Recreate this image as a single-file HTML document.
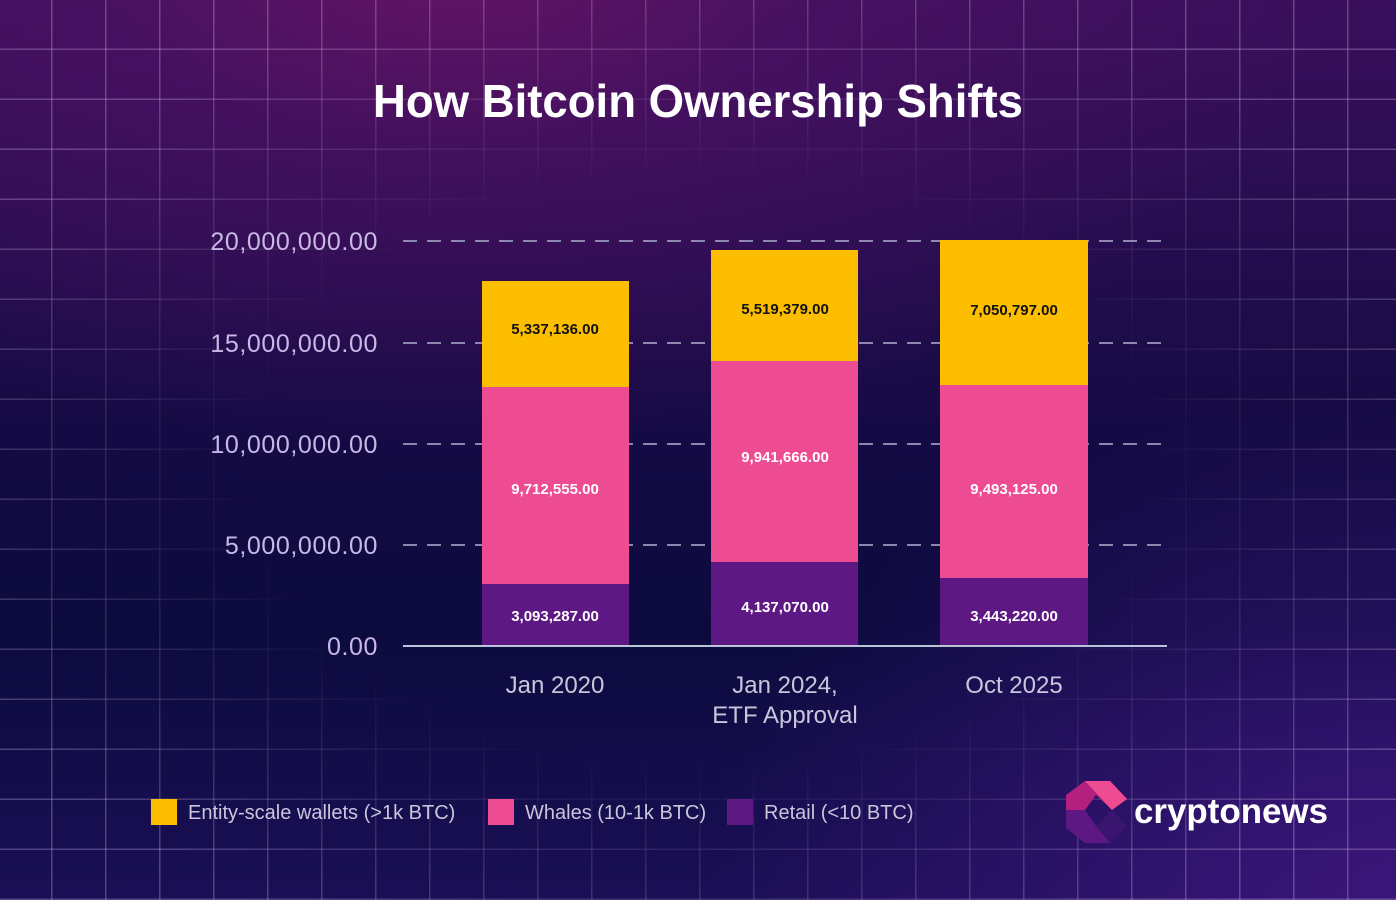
<!DOCTYPE html>
<html><head><meta charset="utf-8"><style>
body{margin:0;width:1396px;height:900px;overflow:hidden;font-family:"Liberation Sans",sans-serif;}
#bg{position:absolute;left:0;top:0;width:1396px;height:900px;
background:radial-gradient(ellipse 900px 500px at 450px -50px,#661465 0%,rgba(80,18,100,0.6) 40%,rgba(0,0,0,0) 100%),
radial-gradient(ellipse 700px 500px at 1396px 900px,#3a167a 0%,rgba(40,16,90,0) 100%),
linear-gradient(180deg,#3a0f5c 0%,#160b45 45%,#0c0b3e 70%,#1a0f55 100%);}
#grid{position:absolute;left:0;top:0;width:1396px;height:900px;
background-image:linear-gradient(90deg,rgba(220,190,240,0.3) 1.5px,transparent 1.5px),linear-gradient(0deg,rgba(220,190,240,0.3) 1.5px,transparent 1.5px);
background-size:54px 50px;background-position:51px 0,0 0;
-webkit-mask-image:radial-gradient(ellipse 800px 520px at 700px 470px,rgba(0,0,0,0) 55%,rgba(0,0,0,1) 100%);
mask-image:radial-gradient(ellipse 800px 520px at 700px 470px,rgba(0,0,0,0) 55%,rgba(0,0,0,1) 100%);}
</style></head><body>
<div id="bg"></div><div id="grid"></div>
<svg width="1396" height="900" style="position:absolute;left:0;top:0">
<g stroke="#8e88b0" stroke-width="2" stroke-dasharray="14,10">
<line x1="403" y1="241" x2="1162" y2="241"/><line x1="403" y1="343" x2="1162" y2="343"/>
<line x1="403" y1="444" x2="1162" y2="444"/><line x1="403" y1="545" x2="1162" y2="545"/>
</g>
<rect x="482" y="281" width="147" height="106" fill="#FDBE00"/>
<rect x="482" y="387" width="147" height="197" fill="#EE4C92"/>
<rect x="482" y="584" width="147" height="62" fill="#5E1883"/>
<rect x="711" y="250" width="147" height="111" fill="#FDBE00"/>
<rect x="711" y="361" width="147" height="201" fill="#EE4C92"/>
<rect x="711" y="562" width="147" height="84" fill="#5E1883"/>
<rect x="940" y="240" width="148" height="145" fill="#FDBE00"/>
<rect x="940" y="385" width="148" height="193" fill="#EE4C92"/>
<rect x="940" y="578" width="148" height="68" fill="#5E1883"/>
<line x1="403" y1="646" x2="1167" y2="646" stroke="#b8c4d8" stroke-width="2"/>
<g font-family="Liberation Sans,sans-serif" font-size="15" font-weight="bold" text-anchor="middle">
<text x="555" y="334" fill="#111">5,337,136.00</text>
<text x="555" y="494" fill="#fff">9,712,555.00</text>
<text x="555" y="621" fill="#fff">3,093,287.00</text>
<text x="785" y="314" fill="#111">5,519,379.00</text>
<text x="785" y="462" fill="#fff">9,941,666.00</text>
<text x="785" y="612" fill="#fff">4,137,070.00</text>
<text x="1014" y="315" fill="#111">7,050,797.00</text>
<text x="1014" y="494" fill="#fff">9,493,125.00</text>
<text x="1014" y="621" fill="#fff">3,443,220.00</text>
</g>
<g font-family="Liberation Sans,sans-serif" font-size="25" fill="#c9b8e6" text-anchor="end" letter-spacing="0.6">
<text x="378" y="250">20,000,000.00</text><text x="378" y="352">15,000,000.00</text>
<text x="378" y="453">10,000,000.00</text><text x="378" y="554">5,000,000.00</text>
<text x="378" y="655">0.00</text>
</g>
<g font-family="Liberation Sans,sans-serif" font-size="24" fill="#c9c6dc" text-anchor="middle">
<text x="555" y="693">Jan 2020</text><text x="785" y="693">Jan 2024,</text>
<text x="785" y="723">ETF Approval</text><text x="1014" y="693">Oct 2025</text>
</g>
<rect x="151" y="799" width="26" height="26" fill="#FDBE00"/>
<rect x="488" y="799" width="26" height="26" fill="#EE4C92"/>
<rect x="727" y="799" width="26" height="26" fill="#5E1883"/>
<g font-family="Liberation Sans,sans-serif" font-size="20" fill="#c9c6dc">
<text x="188" y="819">Entity-scale wallets (&gt;1k BTC)</text>
<text x="525" y="819">Whales (10-1k BTC)</text>
<text x="764" y="819">Retail (&lt;10 BTC)</text>
</g>
<polygon points="1066,795 1085,781 1110,781 1127,799 1112,810 1096,795 1085,810 1066,810" fill="#B3207E"/>
<polygon points="1085,781 1110,781 1127,799 1112,810" fill="#EE4C92"/>
<polygon points="1066,810 1085,810 1096,826 1110,843 1085,843 1066,828" fill="#5E1883"/>
<polygon points="1096,826 1112,810 1127,826 1110,843" fill="#3a1570"/>
<text x="1134" y="823" font-family="Liberation Sans,sans-serif" font-size="35" font-weight="bold" fill="#fff" textLength="194" lengthAdjust="spacingAndGlyphs">cryptonews</text>
<text x="698" y="117" font-family="Liberation Sans,sans-serif" font-size="46" font-weight="bold" fill="#fff" text-anchor="middle" textLength="650" lengthAdjust="spacingAndGlyphs">How Bitcoin Ownership Shifts</text>
</svg>
</body></html>
